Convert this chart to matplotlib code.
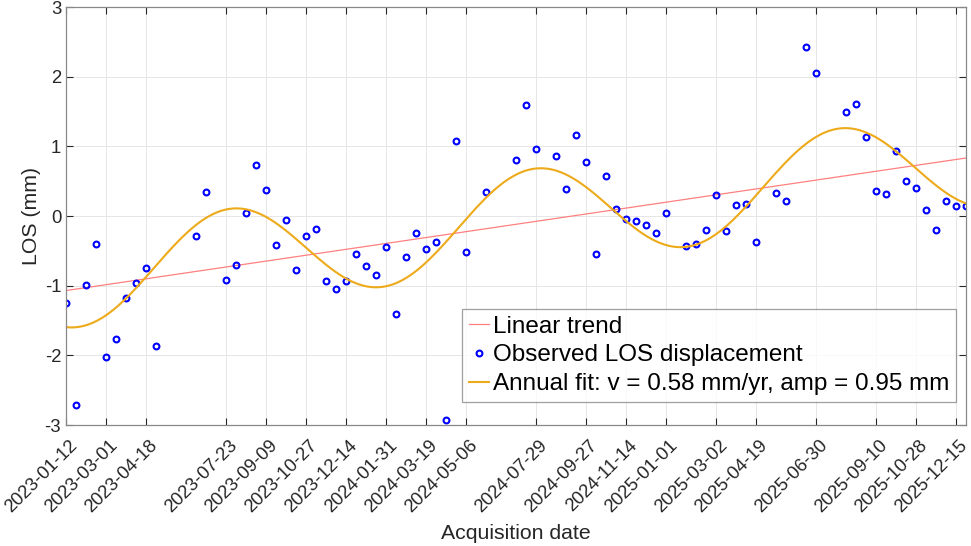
import numpy as np
import matplotlib.pyplot as plt
import matplotlib.dates as mdates
from matplotlib.transforms import ScaledTranslation

plt.rcParams['font.family'] = ['Liberation Sans', 'DejaVu Sans']
plt.rcParams['axes.unicode_minus'] = False

start_date = np.datetime64('2023-01-12')

# days after the first acquisition
acq_days = [0, 12, 24, 36, 48, 60, 72, 84, 96, 108, 156, 168,
            192, 204, 216, 228, 240, 252, 264, 276, 288, 300, 312, 324,
            336, 348, 360, 372, 384, 396, 408, 420, 432, 444, 456, 468,
            480, 504, 540, 552, 564, 588, 600, 612, 624, 636, 648, 660,
            672, 684, 696, 708, 720, 744, 756, 768, 780, 792, 804, 816,
            828, 852, 864, 888, 900, 936, 948, 960, 972, 984, 996, 1008,
            1020, 1032, 1044, 1056, 1068, 1080]

los_mm = [-1.25, -2.71, -0.99, -0.40, -2.03, -1.76, -1.18, -0.96, -0.74, -1.87, -0.28, 0.35,
          -0.92, -0.70, 0.05, 0.73, 0.38, -0.42, -0.05, -0.77, -0.29, -0.18, -0.93, -1.05,
          -0.93, -0.55, -0.72, -0.84, -0.44, -1.40, -0.59, -0.24, -0.48, -0.37, -2.93, 1.07,
          -0.51, 0.35, 0.81, 1.59, 0.96, 0.86, 0.39, 1.17, 0.78, -0.54, 0.58, 0.10,
          -0.04, -0.07, -0.13, -0.25, 0.04, -0.43, -0.40, -0.20, 0.30, -0.22, 0.16, 0.17,
          -0.38, 0.33, 0.21, 2.42, 2.05, 1.50, 1.61, 1.13, 0.36, 0.32, 0.93, 0.50,
          0.40, 0.08, -0.20, 0.21, 0.15, 0.14]

fit_label = 'Annual fit: v = 0.58 mm/yr, amp = 0.95 mm'

days = np.array(acq_days)
y = np.array(los_mm)
dates = start_date + days.astype('timedelta64[D]')
t = days / 365.25

# least squares fits
lin = np.polyfit(t, y, 1)
G = np.column_stack([np.ones_like(t), t, np.sin(2*np.pi*t), np.cos(2*np.pi*t)])
coef = np.linalg.lstsq(G, y, rcond=None)[0]

tf = np.linspace(t[0], t[-1], 600)
dates_f = start_date + np.round(tf*365.25*24).astype('timedelta64[h]')
yf = coef[0] + coef[1]*tf + coef[2]*np.sin(2*np.pi*tf) + coef[3]*np.cos(2*np.pi*tf)

fig = plt.figure(figsize=(9.71, 5.46), dpi=100)
ax = fig.add_axes([0.068, 0.2216, 0.927, 0.7655])

h1, = ax.plot(dates, np.polyval(lin, t), color='#ff8080', lw=0.9, label='Linear trend')
h2, = ax.plot(dates, y, 'o', ls='none', mfc='none', mec='#0000ff', ms=4.2, mew=1.5,
              label='Observed LOS displacement')
h3, = ax.plot(dates_f, yf, color='#edaa1a', lw=1.5, label=fit_label)

ax.set_xlim(dates[0], dates[-1])
ax.set_ylim(-3, 3)
ax.set_yticks([-3, -2, -1, 0, 1, 2, 3])
ax.set_xticks(dates[::4])
ax.xaxis.set_major_formatter(mdates.DateFormatter('%Y-%m-%d'))

ax.grid(True, color='#e6e6e6', lw=0.7)
ax.set_axisbelow(True)
ax.tick_params(direction='in', top=True, right=True, labelsize=13.3, colors='#262626',
               length=5, width=0.8)
ax.tick_params(axis='x', pad=13)
for s in ax.spines.values():
    s.set_color('#888888')
    s.set_linewidth(0.9)

shift = ScaledTranslation(9/100, 0, fig.dpi_scale_trans)
for lab in ax.get_xticklabels():
    lab.set_rotation(45)
    lab.set_ha('right')
    lab.set_va('center')
    lab.set_rotation_mode('anchor')
    lab.set_transform(lab.get_transform() + shift)

ax.set_xlabel('Acquisition date', fontsize=15.3, color='#262626')
ax.xaxis.set_label_coords(0.5, -0.237)
ax.set_ylabel('LOS (mm)', fontsize=15.3, color='#262626')
ax.yaxis.set_label_coords(-0.028, 0.5)

leg = ax.legend(handles=[h1, h2, h3], loc='lower right', fontsize=17.5, frameon=True,
                fancybox=False, edgecolor='#888888', handlelength=0.85,
                handletextpad=0.15, borderpad=0.28, labelspacing=0.28,
                borderaxespad=0, bbox_to_anchor=(0.989, 0.055))
leg.get_frame().set_linewidth(0.9)

fig.savefig('out.png', dpi=100)
